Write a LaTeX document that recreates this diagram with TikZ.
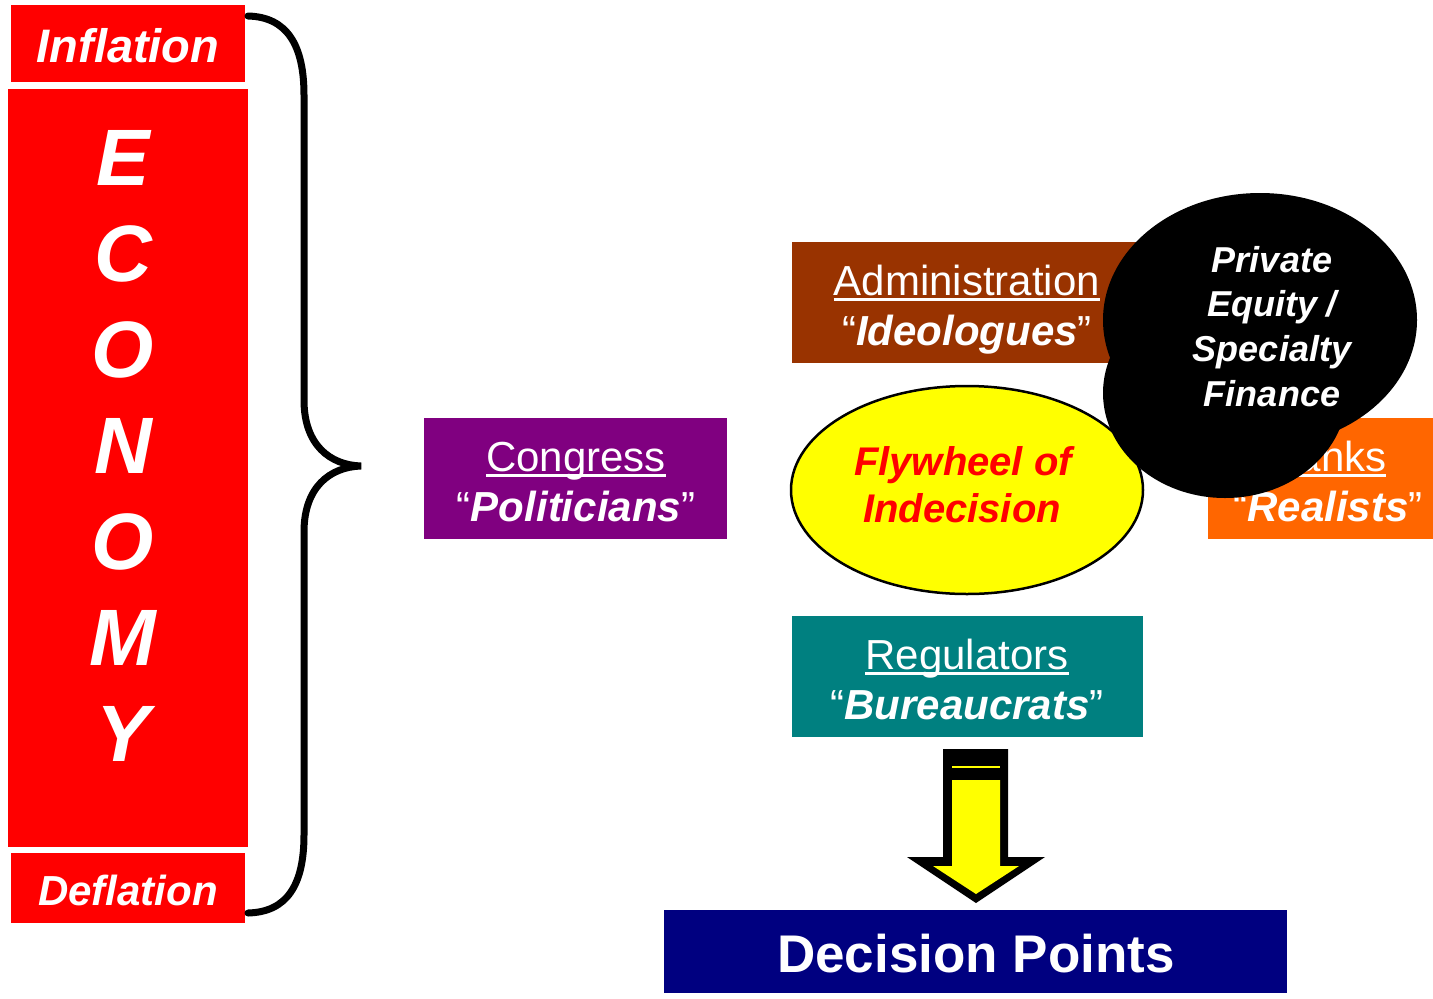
\documentclass[tikz,border=0pt]{standalone}
\usepackage{fontspec}
\setmainfont{Liberation Sans}
\usetikzlibrary{shapes.geometric}
\newsavebox\ulbox
\newcommand\myul[1]{\sbox\ulbox{#1}\rlap{\rule[-6pt]{\wd\ulbox}{2.8pt}}\usebox\ulbox}
\definecolor{cpurple}{HTML}{800080}
\definecolor{cbrown}{HTML}{993300}
\definecolor{corange}{HTML}{FF6600}
\definecolor{cteal}{HTML}{008080}
\definecolor{cnavy}{HTML}{000080}
\definecolor{cred}{HTML}{FF0000}
\definecolor{cyellow}{HTML}{FFFF00}
\tikzset{
  panel/.style={inner sep=0pt, outer sep=0pt, draw=none},
  ltxt/.style={anchor=base, inner sep=0pt, text=white, font=\fontsize{42}{50}\selectfont},
  btxt/.style={anchor=base, inner sep=0pt, text=white, font=\fontsize{36}{44}\selectfont\bfseries\itshape},
  eco/.style={anchor=base, inner sep=0pt, text=white, font=\fontsize{80}{96}\selectfont\bfseries\itshape},
}
\begin{document}
\begin{tikzpicture}[x=1pt,y=-1pt]
\useasboundingbox (0,0) rectangle (1433,999);
\fill[white] (0,0) rectangle (1433,999);

% left red column
\node[panel, fill=cred, minimum width=234pt, minimum height=77pt] (infl) at (128,43.5) {};
\node[panel, fill=cred, minimum width=240pt, minimum height=758pt] (econ) at (128,468) {};
\node[panel, fill=cred, minimum width=234pt, minimum height=70pt] (defl) at (128,888) {};
\node[anchor=base, inner sep=0pt, text=white, font=\fontsize{47}{56}\selectfont\bfseries\itshape] (inflT) at (128,62) {Inflation};
\node[anchor=base, inner sep=0pt, text=white, font=\fontsize{42}{50}\selectfont\bfseries\itshape] (deflT) at (128,905) {Deflation};
\node[eco] (e1) at (123,185) {E};
\node[eco] (e2) at (123,281) {C};
\node[eco] (e3) at (123,377) {O};
\node[eco] (e4) at (123,473) {N};
\node[eco] (e5) at (123,569) {O};
\node[eco] (e6) at (123,665) {M};
\node[eco] (e7) at (123,761) {Y};

% brace
\draw[line width=7pt, line cap=round] (248,16) .. controls (287,17) and (304,45) .. (304,95)
  -- (304,400) .. controls (304,445) and (330,465) .. (361,466)
  .. controls (330,467) and (304,487) .. (304,532)
  -- (304,835) .. controls (304,885) and (287,912) .. (248,913);

% boxes
\node[panel, fill=cpurple, minimum width=303pt, minimum height=121pt] (cong) at (575.5,478.5) {};
\node[panel, fill=cbrown, minimum width=351pt, minimum height=121pt] (admin) at (967.5,302.5) {};
\node[panel, fill=corange, minimum width=225pt, minimum height=121pt] (banks) at (1320.5,478.5) {};
\node[panel, fill=cteal, minimum width=351pt, minimum height=121pt] (reg) at (967.5,676.5) {};
\node[panel, fill=cnavy, minimum width=623pt, minimum height=83pt] (dec) at (975.5,951.5) {};

\node[ltxt] (congA) at (576,471) {\myul{Congress}};
\node[ltxt] (congB) at (576,521) {“{\bfseries\itshape Politicians}”};
\node[ltxt] (adminA) at (967,295) {\myul{Administration}};
\node[ltxt] (adminB) at (967,345) {“{\bfseries\itshape Ideologues}”};
\node[ltxt] (banksA) at (1328,471) {\myul{Banks}};
\node[ltxt] (banksB) at (1328,521) {“{\bfseries\itshape Realists}”};
\node[ltxt] (regA) at (967,669) {\myul{Regulators}};
\node[ltxt] (regB) at (967,719) {“{\bfseries\itshape Bureaucrats}”};

% flywheel
\node[ellipse, draw=black, line width=2.5pt, fill=cyellow, minimum width=352pt, minimum height=208pt, inner sep=0pt] (fly) at (967,490) {};
\node[anchor=base, inner sep=0pt, text=cred, font=\fontsize{40}{47}\selectfont\bfseries\itshape] (flyA) at (963,475) {Flywheel of};
\node[anchor=base, inner sep=0pt, text=cred, font=\fontsize{40}{47}\selectfont\bfseries\itshape] (flyB) at (962,522) {Indecision};

% black blob
\fill[black] (1260,320) ellipse [x radius=157, y radius=127];
\fill[black] (1225,393) ellipse [x radius=122, y radius=105];
\node[btxt] (pe1) at (1272,272) {Private};
\node[btxt] (pe2) at (1272,316) {Equity /};
\node[btxt] (pe3) at (1272,361) {Specialty};
\node[btxt] (pe4) at (1272,406) {Finance};

% block arrow
\fill[black] (943,749) -- (1008,749) -- (1008,857) -- (1045,857) -- (976,903) -- (907,857) -- (943,857) -- cycle;
\fill[cyellow] (952,780) -- (1000,780) -- (1000,866) -- (1019,866) -- (976,894) -- (933,866) -- (952,866) -- cycle;
\draw[cyellow, line width=1.5pt] (952,767) -- (1000,767);

\node[anchor=base, inner sep=0pt, text=white, font=\fontsize{53}{60}\selectfont\bfseries] (decT) at (976,972) {Decision Points};
\end{tikzpicture}
\end{document}
